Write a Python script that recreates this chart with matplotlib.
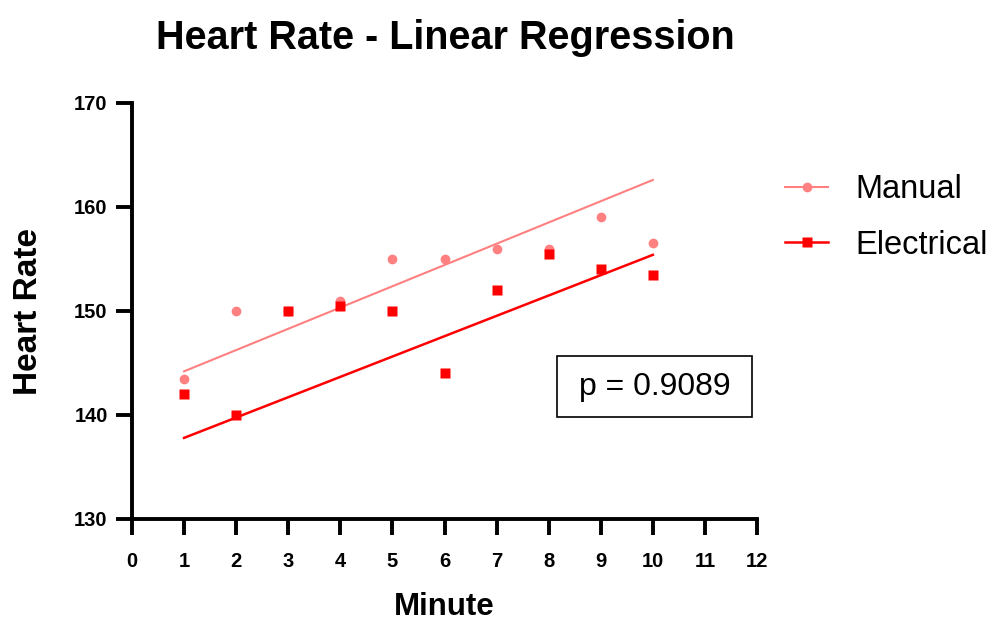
import matplotlib
matplotlib.use("Agg")
import matplotlib.pyplot as plt
from matplotlib.patches import Rectangle
from matplotlib.lines import Line2D

plt.rcParams['font.family'] = ['Liberation Sans', 'DejaVu Sans']

# ---- data ----
minutes = [1, 2, 3, 4, 5, 6, 7, 8, 9, 10]
manual = [143.5, 150, 150, 151, 155, 155, 156, 156, 159, 156.5]
electrical = [142, 140, 150, 150.5, 150, 144, 152, 155.5, 154, 153.5]
fit_x = [1, 10]
manual_fit = [144.2, 162.6]
electrical_fit = [137.8, 155.4]
x_ticks = list(range(0, 13))
y_ticks = [130, 140, 150, 160, 170]
series_names = ["Manual", "Electrical"]
title = "Heart Rate - Linear Regression"
x_label = "Minute"
y_label = "Heart Rate"
p_text = "p = 0.9089"

c_manual = "#FF8080"
c_elec = "#FF0000"

fig = plt.figure(figsize=(9.97, 6.23), dpi=100)
ax = fig.add_axes([132/997, 1-519/623, (757-132)/997, (519-103)/623])

ax.plot(fit_x, manual_fit, color=c_manual, lw=1.5, zorder=2)
ax.plot(fit_x, electrical_fit, color=c_elec, lw=1.8, zorder=2)
ax.plot(minutes, manual, ls='none', marker='o', ms=7, color=c_manual, mec='none', zorder=3)
ax.plot(minutes, electrical, ls='none', marker='s', ms=7, color=c_elec, mec='none', zorder=4)

ax.set_xlim(0, 12)
ax.set_ylim(130, 170)
ax.set_xticks(x_ticks)
ax.set_yticks(y_ticks)
for s in ['top', 'right']:
    ax.spines[s].set_visible(False)
for s in ['left', 'bottom']:
    ax.spines[s].set_linewidth(2.8)
ax.tick_params(axis='both', direction='out', length=11.5, width=2.8, labelsize=14.5)
ax.tick_params(axis='x', pad=12)
ax.tick_params(axis='y', pad=6)
for lab in ax.get_xticklabels() + ax.get_yticklabels():
    lab.set_fontweight('bold')

# p-value box
ax.add_patch(Rectangle((0.68, 0.245), 0.312, 0.147, transform=ax.transAxes,
                       fill=False, ec='black', lw=1.2, zorder=5))
ax.text(0.836, 0.3185, p_text, transform=ax.transAxes, ha='center', va='center',
        fontsize=23, zorder=6)

fig.text(445/997, 1-49/623, title, ha='center', va='baseline', fontsize=28.5, fontweight='bold')
fig.text(444/997, 1-615/623, x_label, ha='center', va='baseline', fontsize=22.5, fontweight='bold')
fig.text(37/997, 1-311.5/623, y_label, ha='center', va='baseline', rotation=90,
         rotation_mode='anchor', fontsize=24, fontweight='bold')

handles = [Line2D([], [], color=c_manual, lw=1.5, marker='o', ms=7, mec='none'),
           Line2D([], [], color=c_elec, lw=1.8, marker='s', ms=7, mec='none')]
fig.legend(handles, series_names, loc='upper left', bbox_to_anchor=(785/997, 1-174/623),
           frameon=False, fontsize=23.5, handlelength=1.32, handletextpad=0.83,
           labelspacing=0.76, borderpad=0, borderaxespad=0)

fig.savefig("out.png", dpi=100)
